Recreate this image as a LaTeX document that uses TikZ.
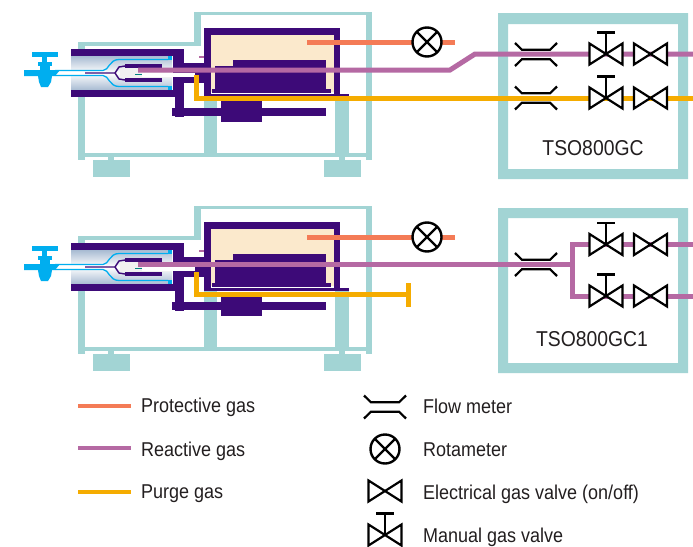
\documentclass[tikz,border=0pt]{standalone}
\usepackage{fontspec}
\setmainfont[FakeStretch=0.9]{Liberation Sans}
\definecolor{frameteal}{HTML}{A2D4D4}
\definecolor{ovenpurple}{HTML}{3D0A78}
\definecolor{ovencream}{HTML}{FBE9CC}
\definecolor{torchblue}{HTML}{00AEEF}
\definecolor{torchshade}{HTML}{A8BBD2}
\definecolor{protectcol}{HTML}{F47B56}
\definecolor{reactcol}{HTML}{B569A3}
\definecolor{purgecol}{HTML}{F5AC00}
\definecolor{labelcol}{HTML}{231F20}
\tikzset{
  protectpipe/.style={draw=protectcol,line width=5pt},
  reactpipe/.style={draw=reactcol,line width=5pt},
  purgepipe/.style={draw=purgecol,line width=5pt},
  symbolline/.style={draw=black,line width=2.2pt},
  legendtext/.style={anchor=base west,text=labelcol,font=\fontsize{20}{22}\selectfont,inner sep=0pt},
  cabinettext/.style={anchor=base,text=labelcol,font=\fontsize{21.5}{24}\selectfont,inner sep=0pt},
  rotameter/.style={circle,draw=black,line width=2.4pt,fill=white,minimum size=29pt,inner sep=0pt,
    path picture={\draw[black,line width=2.4pt] (path picture bounding box.south west) -- (path picture bounding box.north east)
      (path picture bounding box.north west) -- (path picture bounding box.south east);}},
  flowmeter/.pic={
    \draw[symbolline] (-21,-11.5) -- (-14,-4.7) -- (14,-4.7) -- (21,-11.5);
    \draw[symbolline] (-21,11.5) -- (-14,4.7) -- (14,4.7) -- (21,11.5);
  },
  elecvalve/.pic={
    \draw[symbolline,fill=white] (0,0) -- (-16.5,-10.5) -- (-16.5,10.5) -- cycle;
    \draw[symbolline,fill=white] (0,0) -- (16.5,-10.5) -- (16.5,10.5) -- cycle;
  },
  manualvalve/.pic={
    \draw[symbolline,fill=white] (0,0) -- (-16.5,-10.5) -- (-16.5,10.5) -- cycle;
    \draw[symbolline,fill=white] (0,0) -- (16.5,-10.5) -- (16.5,10.5) -- cycle;
    \draw[symbolline] (0,0) -- (0,-21.5) (-9,-21.5) -- (9,-21.5);
  },
  furnace/.pic={
    \fill[frameteal] (78,42) rectangle (201,46);
    \fill[frameteal] (194,12) rectangle (201,46);
    \fill[frameteal] (194,12) rectangle (372,15);
    \fill[frameteal] (366,14) rectangle (372,160);
    \fill[frameteal] (78,42) rectangle (85,160);
    \fill[frameteal] (85,153) rectangle (366,157);
    \fill[frameteal] (204,95) rectangle (217,153);
    \fill[frameteal] (335,95) rectangle (349,153);
    \fill[frameteal] (93,160) rectangle (129.5,177);
    \fill[frameteal] (108,157) rectangle (114,160);
    \fill[frameteal] (324,160) rectangle (361,177);
    \fill[frameteal] (339,157) rectangle (345,160);
    \fill[ovenpurple] (204,28) rectangle (340,95);
    \fill[ovencream] (211,35) rectangle (333.5,93);
    \fill[white] (211,92) rectangle (333.5,94);
    \fill[ovenpurple] (233,60) rectangle (326,70);
    \fill[ovenpurple] (215,66) rectangle (326,90);
    \fill[ovenpurple] (212,89) rectangle (331,93);
    \fill[ovenpurple] (204,94) rectangle (349,97);
    \fill[ovenpurple] (221,100) rectangle (262,122);
    \fill[ovenpurple] (172,108) rectangle (326,116);
    \fill[ovenpurple] (175,95) rectangle (184,117);
    \fill[reactcol] (199,56) rectangle (204,57.5);
    \shade[top color=torchshade,bottom color=torchshade,middle color=white] (71,56) rectangle (172,90);
    \fill[white!94!black] (120,68) rectangle (172,78);
    \fill[ovenpurple] (71,49) rectangle (175,56);
    \fill[ovenpurple] (71,90) rectangle (175,97);
    \fill[ovenpurple] (173,49) rectangle (184,97);
    \fill[ovenpurple] (184,63) rectangle (204,83);
    \fill[white] (142,73) rectangle (195,76.5);
    \fill[torchblue] (168,56) rectangle (172,60);
    \fill[torchblue] (168,86) rectangle (172,90);
    \fill[white] (55,71) rectangle (106,75);
    \draw[torchblue,line width=1.3pt] (55,70.5) -- (103,70.5) .. controls (109,70.5) and (109,59.5) .. (119,59.5) -- (168,59.5);
    \draw[torchblue,line width=1.3pt] (55,75.5) -- (103,75.5) .. controls (109,75.5) and (109,86.5) .. (119,86.5) -- (168,86.5);
    \fill[ovenpurple] (125,64) rectangle (162,68);
    \fill[ovenpurple] (125,78) rectangle (162,82);
    \draw[ovenpurple,line width=1.4pt] (85,73) -- (115,73) -- (119,67) -- (125,66);
    \draw[ovenpurple,line width=1.4pt] (115,73) -- (119,79) -- (125,80);
    \draw[teal,line width=0.8pt] (135,74) -- (142,74);
    \fill[torchblue] (32,52) rectangle (58,57);
    \fill[torchblue] (42,57) rectangle (47,62);
    \fill[torchblue] (38,62) rectangle (52,66);
    \fill[torchblue] (40,66) rectangle (50,70);
    \fill[torchblue] (24,70) -- (60,70) -- (55,76) -- (24,76) -- cycle;
    \fill[torchblue] (38,76) -- (52,76) -- (51,82) -- (48,87) -- (41,87) -- (39,82) -- cycle;
  }
}
\begin{document}
\begin{tikzpicture}[x=1pt,y=-1pt]
      \useasboundingbox (0,0) rectangle (693,546);
      \fill[white] (0,0) rectangle (693,546);

      \pic (unitA) at (0,0) {furnace};
      \pic (unitB) at (0,194) {furnace};

      \fill[frameteal,even odd rule] (498,13) rectangle (688,179) (508,24) rectangle (678,169);
      \fill[frameteal,even odd rule] (498,208) rectangle (688,373) (508,218) rectangle (678,363);

      \coordinate (protA) at (307,42.5);
      \coordinate (protAend) at (455,42.5);
      \coordinate (reactA) at (138,70);
      \coordinate (reactAbend) at (450,70);
      \coordinate (reactAtop) at (475,54);
      \coordinate (reactAend) at (693,54);
      \coordinate (purgeA) at (196.5,75);
      \coordinate (purgeAbend) at (196.5,98);
      \coordinate (purgeAend) at (693,98);
      \draw[protectpipe] (protA) -- (protAend);
      \draw[purgepipe] (purgeA) -- (purgeAbend) -- (purgeAend);
      \draw[reactpipe] (reactA) -- (reactAbend) -- (reactAtop) -- (reactAend);

      \coordinate (protB) at (307,237);
      \coordinate (protBend) at (455,237);
      \coordinate (reactB) at (138,264.5);
      \coordinate (reactBfork) at (572.5,264.5);
      \coordinate (reactBup) at (572.5,244.5);
      \coordinate (reactBdown) at (572.5,296);
      \coordinate (reactBupend) at (693,244.5);
      \coordinate (reactBdownend) at (693,296);
      \coordinate (purgeB) at (196.5,272);
      \coordinate (purgeBbend) at (196.5,294);
      \coordinate (purgeBend) at (408.5,294);
      \coordinate (capBtop) at (408.5,283);
      \coordinate (capBbot) at (408.5,307);
      \draw[protectpipe] (protB) -- (protBend);
      \draw[purgepipe] (purgeB) -- (purgeBbend) -- (purgeBend);
      \draw[purgepipe] (capBtop) -- (capBbot);
      \draw[reactpipe] (reactB) -- (reactBfork);
      \draw[reactpipe,line cap=rect] (reactBupend) -- (reactBup) -- (reactBdown) -- (reactBdownend);

      \node[rotameter] (rotA) at (427,42) {};
      \node[rotameter] (rotB) at (427,237) {};

      \pic at (536,54.5) {flowmeter};
      \pic at (536,98) {flowmeter};
      \pic at (606,54) {manualvalve};
      \pic at (606,98) {manualvalve};
      \pic at (650.5,54) {elecvalve};
      \pic at (650.5,98) {elecvalve};
      \node[cabinettext] (nameA) at (593,155) {TSO800GC};

      \pic at (536,264.5) {flowmeter};
      \pic at (606,244.5) {manualvalve};
      \pic at (606,296) {manualvalve};
      \pic at (650.5,244.5) {elecvalve};
      \pic at (650.5,296) {elecvalve};
      \node[cabinettext] (nameB) at (592,346) {TSO800GC1};

      \coordinate (keyProt) at (78,406);
      \coordinate (keyProtend) at (131,406);
      \coordinate (keyReact) at (78,448);
      \coordinate (keyReactend) at (131,448);
      \coordinate (keyPurge) at (78,492);
      \coordinate (keyPurgeend) at (131,492);
      \draw[protectpipe,line width=4.5pt] (keyProt) -- (keyProtend);
      \draw[reactpipe,line width=4.5pt] (keyReact) -- (keyReactend);
      \draw[purgepipe,line width=4.5pt] (keyPurge) -- (keyPurgeend);
      \node[legendtext] (txtProt) at (141,412) {Protective gas};
      \node[legendtext] (txtReact) at (141,456) {Reactive gas};
      \node[legendtext] (txtPurge) at (141,498) {Purge gas};

      \pic at (385,407) {flowmeter};
      \node[rotameter] (rotKey) at (385,449) {};
      \pic at (385,491) {elecvalve};
      \pic at (385,535) {manualvalve};
      \node[legendtext] (txtFlow) at (423,413) {Flow meter};
      \node[legendtext] (txtRot) at (423,456) {Rotameter};
      \node[legendtext] (txtElec) at (423,499) {Electrical gas valve (on/off)};
      \node[legendtext] (txtMan) at (423,542) {Manual gas valve};
    \end{tikzpicture}
\end{document}
